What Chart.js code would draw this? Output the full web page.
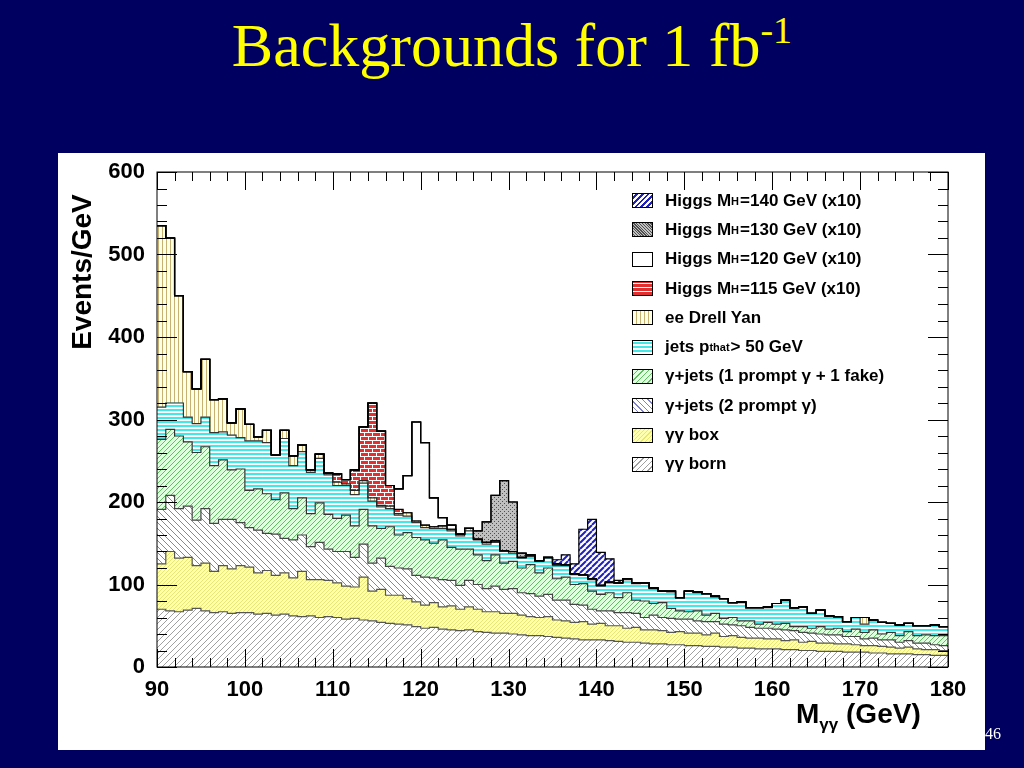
<!DOCTYPE html>
<html>
<head>
<meta charset="utf-8">
<script src="https://cdn.jsdelivr.net/npm/chart.js@4"></script>
<style>
  body { margin:0; width:1024px; height:768px; background:#000060; position:relative; overflow:hidden; font-family:"Liberation Sans", Arial, sans-serif; }
  #title { position:absolute; top:10px; left:0; width:1024px; text-align:center; color:#ffff00; font-family:"Liberation Serif", "Times New Roman", serif; font-size:62px; }
  #title sup { font-size:38px; vertical-align:top; position:relative; top:-2px; }
  #panel { position:absolute; left:58px; top:153px; width:927px; height:597px; background:#fff; }
  #chart-wrap { position:absolute; left:0; top:0; width:927px; height:597px; }
  #ytitle { position:absolute; left:-116px; top:103px; width:280px; text-align:center; transform:rotate(-90deg); font-weight:bold; font-size:28px; color:#000; }
  #xtitle { position:absolute; left:738px; top:545px; font-weight:bold; font-size:28px; color:#000; }
  #xtitle sub { font-size:17px; }
  #legend { position:absolute; left:574px; top:33px; }
  .row { height:29.3px; display:flex; align-items:center; font-weight:bold; font-size:17px; color:#000; white-space:nowrap; }
  .row sub { font-size:11px; vertical-align:-4px; margin-right:1px; }
  .sw { width:19px; height:13px; border:1px solid #000; margin-right:12px; flex:none; }
  #page { position:absolute; left:985px; top:725px; color:#fff; font-family:"Liberation Serif", serif; font-size:16px; }
</style>
</head>
<body>
<div id="title">Backgrounds for 1 fb<sup>-1</sup></div>
<div id="panel">
  <div id="chart-wrap"><canvas id="histo"></canvas></div>
  <div id="ytitle">Events/GeV</div>
  <div id="xtitle">M<sub>γγ</sub> (GeV)</div>
  <div id="legend"></div>
</div>
<div id="page">46</div>
<script>
// bins of 1 GeV, lower edges 90 .. 179
const binLow = [];
for (let m = 90; m < 180; m++) binLow.push(m);

const bornVals = [70,68,67,69,71,68,66,67,65,66, 66,64,65,63,64,62,61,62,60,61,
  60,58,59,57,56,54,53,52,51,49, 47,48,46,45,44,45,43,42,41,41, 40,39,38,38,37,36,35,34,33,33,
  33,32,31,30,30,29,28,28,27,27, 26,26,25,25,24,24,23,23,22,22, 22,21,21,20,20,19,19,19,18,18,
  18,17,17,16,16,16,15,15,14,14];
const boxVals = [55,72,65,64,52,58,50,56,54,57, 55,50,52,48,50,46,55,44,46,44,
  42,40,38,52,36,40,34,35,32,30, 28,30,27,29,26,28,27,25,26,24, 25,24,23,22,24,21,21,20,22,19,
  20,18,19,17,18,16,17,16,15,16, 15,15,14,16,13,14,13,12,13,12, 12,11,12,10,11,10,10,9,10,9,
  8,9,8,8,7,8,7,6,7,6];
const prompt2Vals = [66,68,60,62,55,66,58,56,60,52, 48,52,45,50,42,46,44,40,45,38,
  38,42,36,40,34,38,35,33,36,32, 34,30,33,31,29,32,30,28,31,29, 30,27,28,26,27,24,25,22,20,18,
  15,18,16,19,17,15,18,16,17,15, 17,15,16,14,15,13,14,13,12,13, 12,13,11,12,10,11,10,11,9,10,
  8,9,8,9,7,8,7,8,6,6];
const fakeVals = [85,80,88,78,82,75,70,72,60,65, 45,50,48,42,55,38,45,40,48,42,
  40,44,38,42,45,36,48,40,44,46, 45,42,48,40,44,38,36,34,38,32, 33,30,35,28,32,26,28,24,26,22,
  20,22,18,24,16,20,14,18,12,10, 9,12,8,10,7,9,6,8,5,7, 6,8,5,7,6,9,7,8,6,9,
  8,10,7,9,8,11,9,10,11,12];
const jetsVals = [39,32,40,30,35,36,40,34,42,38, 60,58,62,54,66,52,56,50,54,48,
  40,36,38,32,30,26,22,24,20,18, 15,18,14,20,16,22,18,20,15,14, 10,12,10,14,12,16,14,12,10,14,
  10,12,18,16,20,22,18,14,20,16, 25,22,26,20,24,18,22,16,20,18, 25,28,22,24,18,20,16,14,12,14,
  10,12,14,11,13,10,12,11,13,11];
const dyVals = [220,200,130,55,42,70,40,40,15,35, 20,5,15,0,10,12,8,3,5,2,
  4,2,5,3,4,2,3,2,4,2, 3,2,3,2,2,3,1,2,2,1, 2,1,2,1,1,2,1,1,1,1,
  1,1,0,1,1,0,1,0,1,0, 0,1,0,1,0,0,1,0,0,1, 0,0,1,0,0,0,0,0,0,0,
  8,0,0,0,0,0,0,0,0,0];
// Higgs signals (x10), non-zero only around the mass
const h115Vals = {110:10, 111:5, 112:25, 113:65, 114:115, 115:90, 116:25, 117:5};
const h120Vals = {117:25, 118:45, 119:120, 120:100, 121:35, 122:10, 123:5};
const h130Vals = {126:10, 127:25, 128:55, 129:85, 130:60, 131:5};
const h140Vals = {135:5, 136:12, 137:12, 138:55, 139:72, 140:40, 141:28, 142:3};

const yTicks = [0,100,200,300,400,500,600];
const xTicks = [90,100,110,120,130,140,150,160,170,180];

function pattern(bg, draw, size) {
  const c = document.createElement('canvas');
  c.width = size; c.height = size;
  const g = c.getContext('2d');
  g.fillStyle = bg; g.fillRect(0, 0, size, size);
  draw(g, size);
  return document.createElement('canvas').getContext('2d').createPattern(c, 'repeat');
}
function diag(color, dir, w) {
  return (g, s) => {
    g.strokeStyle = color; g.lineWidth = w;
    g.beginPath();
    for (let k = -s; k <= 2 * s; k += s) {
      if (dir > 0) { g.moveTo(k, s); g.lineTo(k + s, 0); }
      else { g.moveTo(k, 0); g.lineTo(k + s, s); }
    }
    g.stroke();
  };
}
const fills = {
  born: pattern('#ffffff', diag('#a0a0a0', 1, 1), 6),
  box: pattern('#ffffb0', diag('#e8e870', 1, 1), 4),
  prompt2: pattern('#ffffff', diag('#8080d0', -1, 1), 6),
  fake: pattern('#e0ffe0', (g, s) => { diag('#60c060', 1, 1)(g, s); }, 5),
  jets: pattern('#ffffff', (g, s) => { g.fillStyle = '#40e8e8'; g.fillRect(0, 0, s, 2); }, 4),
  dy: pattern('#ffffe8', (g, s) => { g.fillStyle = '#c8b070'; g.fillRect(0, 0, 1, s); }, 4),
  h115: pattern('#ffffff', (g, s) => { g.fillStyle = '#e03030'; g.fillRect(0, 0, s, s/2 - 1); g.fillRect(0, s/2, s, s/2 - 1); g.fillStyle = '#fff'; g.fillRect(2, 0, 1, s/2); g.fillRect(6, s/2, 1, s/2); }, 8),
  h120: '#ffffff',
  h130: pattern('#c0c0c0', (g, s) => { g.fillStyle = '#505050'; g.fillRect(0, 0, 1, 1); g.fillRect(2, 2, 1, 1); }, 4),
  h140: pattern('#ffffff', diag('#2020c0', 1, 2), 6)
};

const series = [
  {key:'born', vals:bornVals, label:'γγ born', line:'#555'},
  {key:'box', vals:boxVals, label:'γγ box', line:'#555'},
  {key:'prompt2', vals:prompt2Vals, label:'γ+jets (2 prompt γ)', line:'#444'},
  {key:'fake', vals:fakeVals, label:'γ+jets (1 prompt γ + 1 fake)', line:'#333'},
  {key:'jets', vals:jetsVals, label:'jets p<sub>that</sub> &gt; 50 GeV', line:'#333'},
  {key:'dy', vals:dyVals, label:'ee Drell Yan', line:'#222'},
  {key:'h115', vals:binLow.map(m => h115Vals[m] || 0), label:'Higgs M<sub>H</sub>=115 GeV (x10)', line:'#000'},
  {key:'h120', vals:binLow.map(m => h120Vals[m] || 0), label:'Higgs M<sub>H</sub>=120 GeV (x10)', line:'#000'},
  {key:'h130', vals:binLow.map(m => h130Vals[m] || 0), label:'Higgs M<sub>H</sub>=130 GeV (x10)', line:'#000'},
  {key:'h140', vals:binLow.map(m => h140Vals[m] || 0), label:'Higgs M<sub>H</sub>=140 GeV (x10)', line:'#000'}
];

// legend in ROOT order (top = last stacked)
const legendBox = document.getElementById('legend');
const swatchCss = {
  born: 'repeating-linear-gradient(135deg,#fff 0 3px,#a0a0a0 3px 4px)',
  box: 'repeating-linear-gradient(135deg,#ffffb0 0 2px,#e8e870 2px 3px)',
  prompt2: 'repeating-linear-gradient(45deg,#fff 0 3px,#8080d0 3px 4px)',
  fake: 'repeating-linear-gradient(135deg,#e0ffe0 0 3px,#60c060 3px 4px)',
  jets: 'repeating-linear-gradient(0deg,#fff 0 2px,#40e8e8 2px 4px)',
  dy: 'repeating-linear-gradient(90deg,#ffffe8 0 3px,#c8b070 3px 4px)',
  h115: 'repeating-linear-gradient(0deg,#e03030 0 3px,#fff 3px 4px)',
  h120: '#fff',
  h130: 'repeating-linear-gradient(45deg,#c0c0c0 0 1px,#505050 1px 2px)',
  h140: 'repeating-linear-gradient(135deg,#fff 0 2px,#2020c0 2px 4px)'
};
series.slice().reverse().forEach(s => {
  const row = document.createElement('div');
  row.className = 'row';
  row.innerHTML = `<span class="sw" style="background:${swatchCss[s.key]}"></span>${s.label}`;
  legendBox.appendChild(row);
});

const datasets = series.map(s => ({
  label: s.key,
  data: binLow.map((m, i) => ({x: m + 0.5, y: s.vals[i]})),
  backgroundColor: fills[s.key],
  borderWidth: 0,
  barPercentage: 1,
  categoryPercentage: 1,
  lineColor: s.line
}));

// ROOT-style step outlines plus inward ticks on all four sides
const rootStyle = {
  id: 'rootStyle',
  afterDatasetsDraw(chart) {
    const g = chart.ctx;
    chart.data.datasets.forEach((ds, di) => {
      const bars = chart.getDatasetMeta(di).data;
      g.save();
      g.strokeStyle = ds.lineColor;
      g.lineWidth = 1.2;
      g.beginPath();
      bars.forEach((b, i) => {
        const l = b.x - b.width / 2, r = b.x + b.width / 2;
        if (i === 0) g.moveTo(l, b.y); else g.lineTo(l, b.y);
        g.lineTo(r, b.y);
      });
      g.stroke();
      g.restore();
    });
    const a = chart.chartArea, xs = chart.scales.x, ys = chart.scales.y;
    g.save();
    g.strokeStyle = '#000';
    g.lineWidth = 1;
    g.strokeRect(a.left, a.top, a.right - a.left, a.bottom - a.top);
    g.beginPath();
    for (let v = 0; v <= 600; v += 20) {
      const y = Math.round(ys.getPixelForValue(v)) + 0.5;
      const len = v % 100 === 0 ? 20 : 10;
      g.moveTo(a.left, y); g.lineTo(a.left + len, y);
      g.moveTo(a.right, y); g.lineTo(a.right - len, y);
    }
    for (let v = 90; v <= 180; v += 2) {
      const x = Math.round(xs.getPixelForValue(v)) + 0.5;
      const len = v % 10 === 0 ? 18 : 9;
      g.moveTo(x, a.bottom); g.lineTo(x, a.bottom - len);
      g.moveTo(x, a.top); g.lineTo(x, a.top + len);
    }
    g.stroke();
    g.restore();
  }
};

const histo = new Chart(document.getElementById('histo'), {
  type: 'bar',
  data: { datasets: datasets },
  options: {
    responsive: true,
    maintainAspectRatio: false,
    animation: false,
    layout: { padding: { top: 19, right: 37, left: 0, bottom: 0 } },
    plugins: { legend: { display: false }, tooltip: { enabled: false } },
    scales: {
      x: {
        type: 'linear', stacked: true, min: 90, max: 180, offset: false,
        grid: { display: false, offset: false },
        border: { display: false },
        afterBuildTicks: s => { s.ticks = xTicks.map(v => ({value: v})); },
        afterFit: s => { s.height = 83; },
        ticks: { color: '#000', padding: 2, maxRotation: 0, font: { family: 'Liberation Sans', size: 22, weight: 'bold' } }
      },
      y: {
        stacked: true, min: 0, max: 600,
        grid: { display: false },
        border: { display: false },
        afterBuildTicks: s => { s.ticks = yTicks.map(v => ({value: v})); },
        afterFit: s => { s.width = 99; },
        ticks: { color: '#000', padding: 4, font: { family: 'Liberation Sans', size: 22, weight: 'bold' } }
      }
    }
  },
  plugins: [rootStyle]
});
</script>
</body>
</html>
